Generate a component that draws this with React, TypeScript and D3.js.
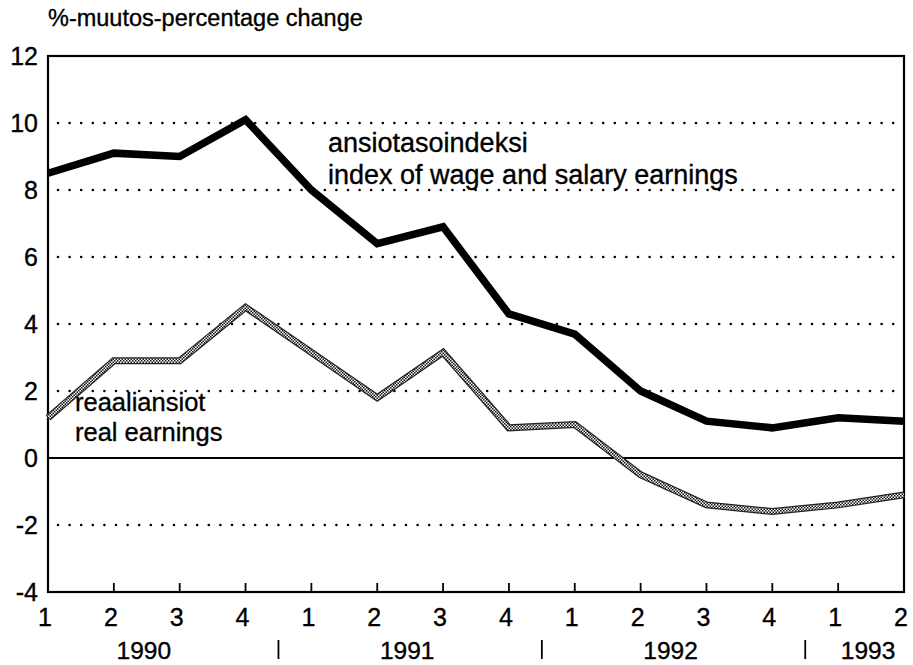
import * as d3 from 'd3'

// quarters 1990 Q1 .. 1993 Q2
const quarters = ['1', '2', '3', '4', '1', '2', '3', '4', '1', '2', '3', '4', '1', '2']
const years = ['1990', '1991', '1992', '1993']
const yTicks = [12, 10, 8, 6, 4, 2, 0, -2, -4]
const gridValues = [10, 8, 6, 4, 2, -2]

// index of wage and salary earnings, % change
const wageIndex = [8.5, 9.1, 9.0, 10.1, 8.0, 6.4, 6.9, 4.3, 3.7, 2.0, 1.1, 0.9, 1.2, 1.1]
// real earnings, % change
const realEarnings = [1.2, 2.9, 2.9, 4.5, 3.15, 1.8, 3.15, 0.9, 1.0, -0.5, -1.4, -1.6, -1.4, -1.1]

const W = 913
const H = 665
const margin = { top: 56, right: 9, bottom: 72, left: 48 }
const font = '"Liberation Sans", Arial, Helvetica, sans-serif'

export default function App() {
  const x = d3
    .scaleLinear()
    .domain([0, quarters.length - 1])
    .range([margin.left, W - margin.right])
  const y = d3
    .scaleLinear()
    .domain([-4, 12])
    .range([H - margin.bottom - 1, margin.top])

  const line = d3
    .line<number>()
    .x((_, i) => x(i))
    .y((d) => y(d))

  const left = x(0)
  const right = x(quarters.length - 1)

  // year label centres and separators between Q4 and Q1
  const yearSpans = [
    [0, 3],
    [4, 7],
    [8, 11],
    [12, 13],
  ]
  const separators = [3.5, 7.5, 11.5]

  // scanned print looks a bit heavier than a clean font
  const ink = { fill: '#000', stroke: '#000', strokeWidth: 0.35 }

  return (
    <svg
      width={W}
      height={H}
      style={{ position: 'absolute', left: 0, top: 0, background: '#fff' }}
      fontFamily={font}
    >
      <defs>
        <pattern id="dither" width="3" height="3" patternUnits="userSpaceOnUse">
          <rect width="3" height="3" fill="#fff" />
          <rect width="1.5" height="1.5" fill="#111" />
          <rect x="1.5" y="1.5" width="1.5" height="1.5" fill="#111" />
        </pattern>
      </defs>

      <text x={left} y={26} fontSize={23.5} {...ink}>
        %-muutos-percentage change
      </text>

      {/* dotted grid */}
      {gridValues.map((v) => (
        <line
          key={v}
          x1={left + 10}
          x2={right}
          y1={y(v)}
          y2={y(v)}
          stroke="#000"
          strokeWidth={2.6}
          strokeLinecap="round"
          strokeDasharray="0 11.6"
        />
      ))}

      {/* zero line */}
      <line x1={left} x2={right} y1={y(0)} y2={y(0)} stroke="#000" strokeWidth={2.2} />

      {/* frame */}
      <rect
        x={left}
        y={y(12)}
        width={right - left}
        height={y(-4) - y(12)}
        fill="none"
        stroke="#000"
        strokeWidth={2.2}
      />

      {/* bottom ticks */}
      {quarters.map((_, i) =>
        i === 0 || i === quarters.length - 1 ? null : (
          <line key={i} x1={x(i)} x2={x(i)} y1={y(-4)} y2={y(-4) - 9} stroke="#000" strokeWidth={1.8} />
        )
      )}

      {/* y tick labels */}
      {yTicks.map((v) => (
        <text key={v} x={38} y={y(v) + 9} fontSize={25} textAnchor="end" {...ink}>
          {v}
        </text>
      ))}

      {/* quarter labels */}
      {quarters.map((q, i) => (
        <text key={i} x={x(i) - 3} y={626} fontSize={25} textAnchor="middle" {...ink}>
          {q}
        </text>
      ))}

      {/* year labels */}
      {years.map((yr, i) => (
        <text
          key={yr}
          x={(x(yearSpans[i][0]) + x(yearSpans[i][1])) / 2 - 3}
          y={659}
          fontSize={24.5}
          textAnchor="middle"
          {...ink}
        >
          {yr}
        </text>
      ))}
      {separators.map((s) => (
        <line key={s} x1={x(s)} x2={x(s)} y1={640} y2={659} stroke="#000" strokeWidth={1.8} />
      ))}

      {/* real earnings - dithered grey line */}
      <path d={line(realEarnings) ?? ''} fill="none" stroke="#222" strokeWidth={7} strokeLinejoin="miter" />
      <path d={line(realEarnings) ?? ''} fill="none" stroke="url(#dither)" strokeWidth={4.5} strokeLinejoin="miter" />

      {/* wage index - thick black line */}
      <path d={line(wageIndex) ?? ''} fill="none" stroke="#000" strokeWidth={7.5} strokeLinejoin="miter" />

      <text x={328} y={152} fontSize={27} {...ink}>
        ansiotasoindeksi
      </text>
      <text x={328} y={184} fontSize={27} {...ink}>
        index of wage and salary earnings
      </text>

      <text x={75} y={411} fontSize={25.5} {...ink}>
        reaaliansiot
      </text>
      <text x={75} y={441} fontSize={25.5} {...ink}>
        real earnings
      </text>
    </svg>
  )
}
